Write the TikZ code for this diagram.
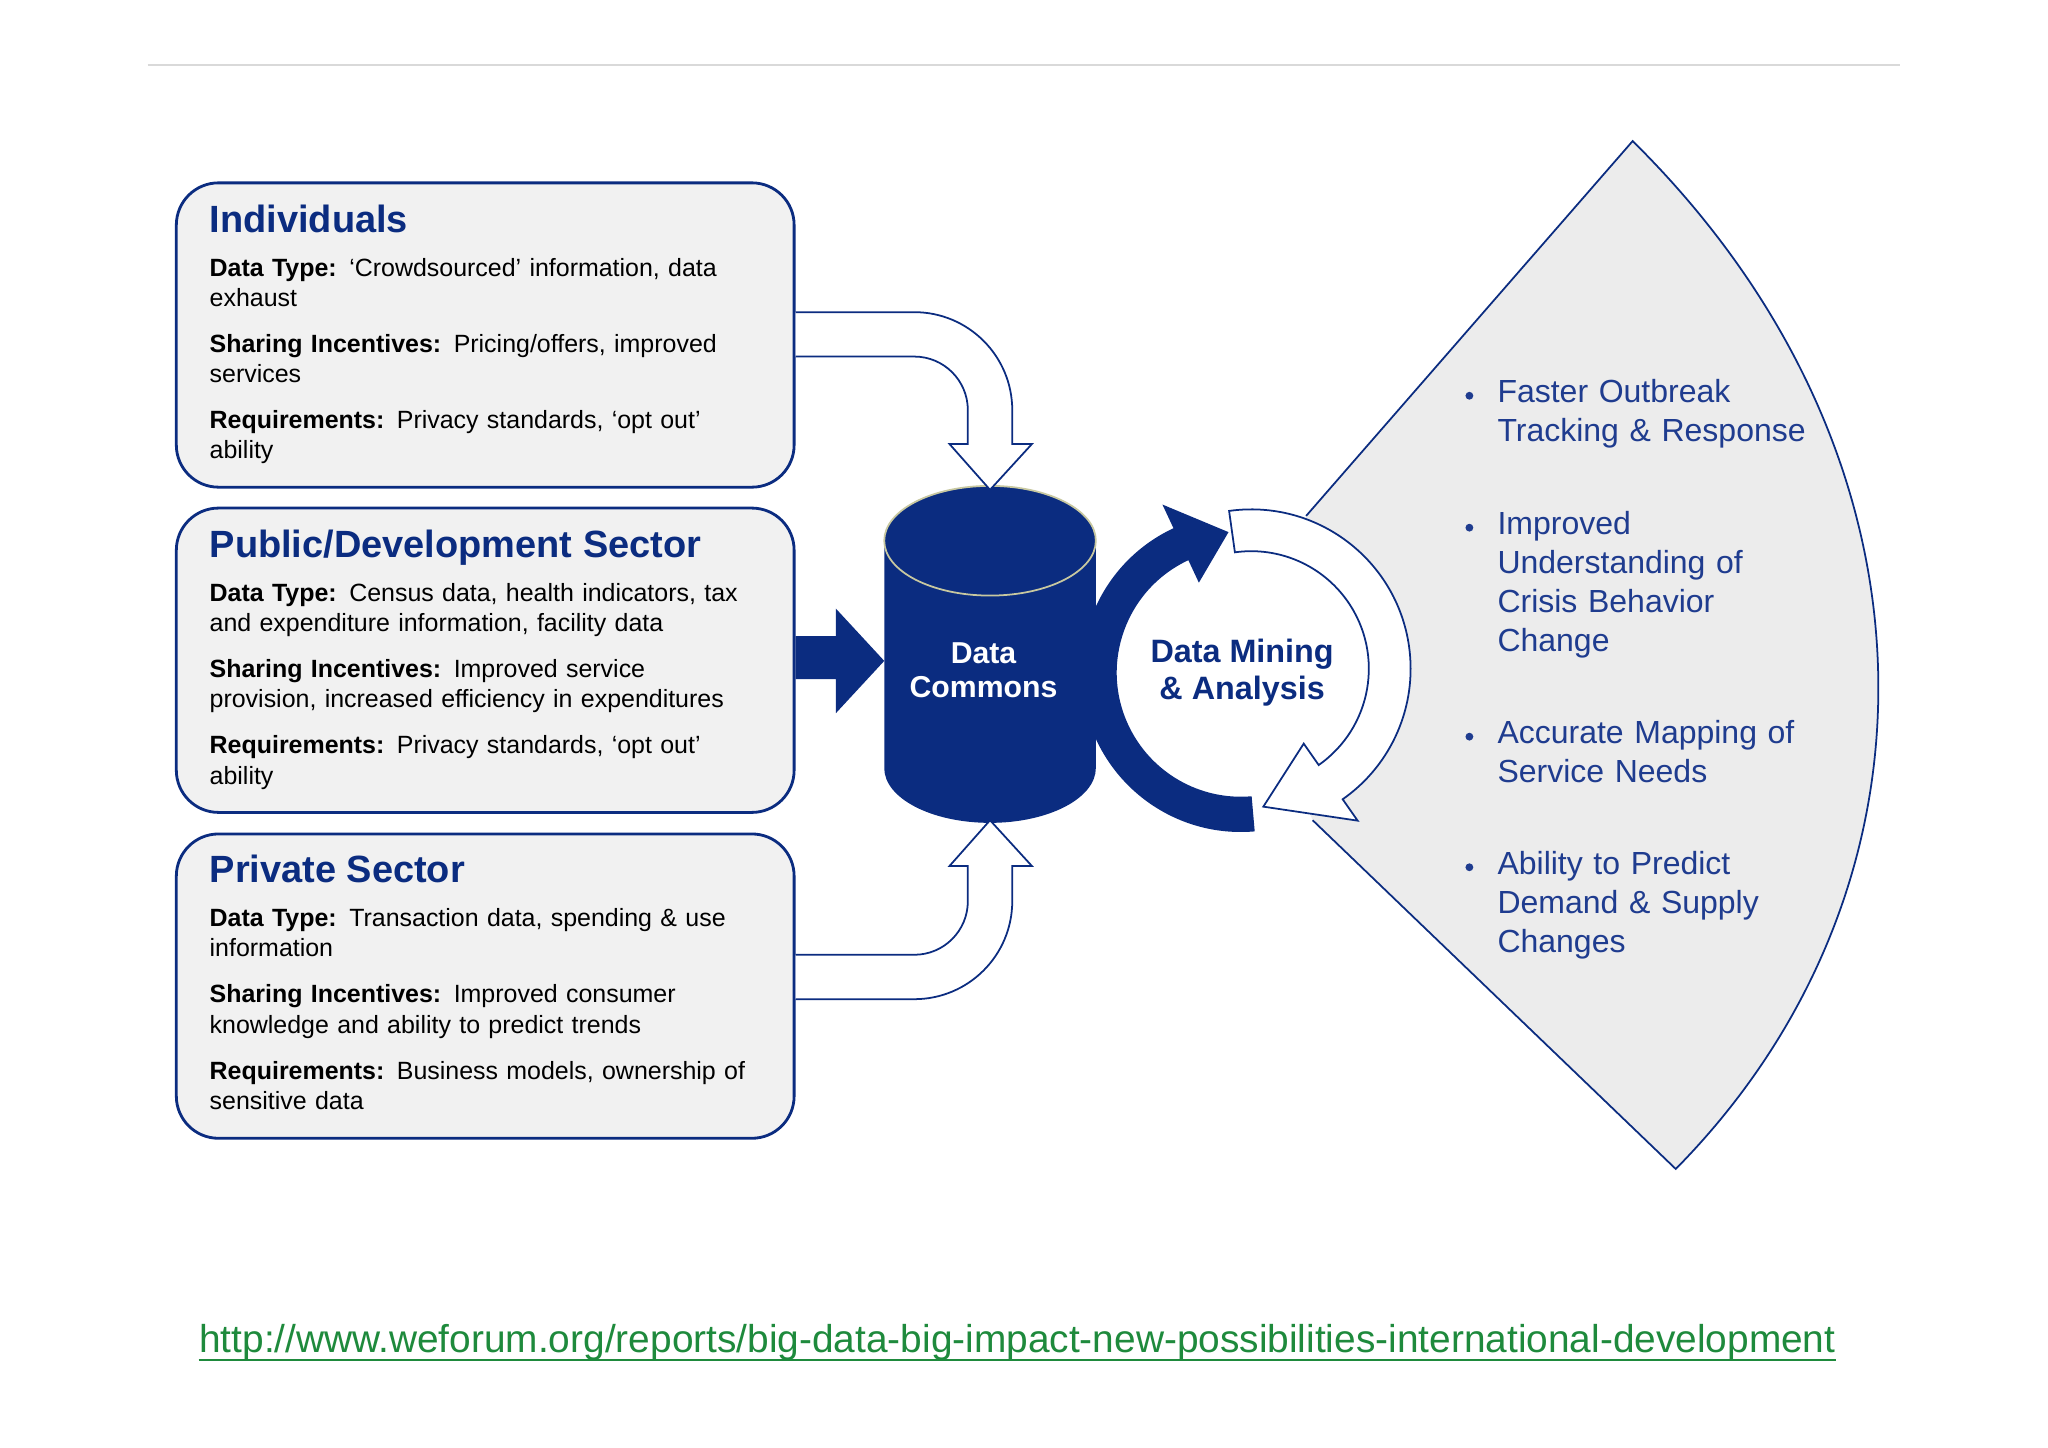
\documentclass[tikz,border=0pt]{standalone}
\usepackage{fontspec}
\setmainfont{Liberation Sans}
\usetikzlibrary{calc}
\definecolor{navy}{HTML}{0B2C80}
\definecolor{bluetxt}{HTML}{1F3C8F}
\definecolor{boxfill}{HTML}{F1F1F1}
\definecolor{fanfill}{HTML}{ECECEC}
\definecolor{urlgreen}{HTML}{1E8A3C}
\definecolor{rimc}{HTML}{C8C8A0}
\tikzset{
  srcbox/.style={draw=navy, line width=0.8pt, fill=boxfill, rounded corners=12pt, minimum width=473*0.3716pt, minimum height=233*0.3716pt, inner sep=0pt},
  ttl/.style={anchor=base west, font=\fontsize{10.8}{13}\selectfont\bfseries, text=navy, inner sep=0pt},
  body/.style={anchor=north west, text width=153pt, align=left, font=\fontsize{7.1}{8.6}\selectfont, inner sep=0pt},
  hollow/.style={draw=navy, line width=0.5pt, fill=white},
  bul/.style={anchor=north west, text width=105pt, align=left, font=\fontsize{9.1}{11.1}\selectfont, text=bluetxt, inner sep=0pt}
}
\hyphenpenalty=10000
\exhyphenpenalty=10000
\newcommand{\itm}[2]{\textbf{#1}\enspace #2\par\vspace{4.5pt}}
\begin{document}
\begin{tikzpicture}[x=0.3716pt, y=-0.3716pt]
\useasboundingbox[fill=white] (0,0) rectangle (1568,1108);
\draw[black!15, line width=0.6pt] (113,50) -- (1455,50);

% fan
\fill[fanfill] (958,512) -- (1000,395) -- (1250,108) .. controls (1495,350) and (1495,680) .. (1283,895) -- (1005,628) -- cycle;
\draw[navy, line width=0.5pt] (1000,395) -- (1250,108) .. controls (1495,350) and (1495,680) .. (1283,895) -- (1005,628);
\fill[white] (958,512) circle (100);

% source boxes
\node[srcbox] (ind) at (371.5,256.5) {};
\node[srcbox] (pub) at (371.5,505.5) {};
\node[srcbox] (prv) at (371.5,755) {};

\node[ttl] (t1) at (160,178) {Individuals};
\node[body] (b1) at (160,197) {\itm{Data Type:}{‘Crowdsourced’ information, data exhaust}\itm{Sharing Incentives:}{Pricing/offers, improved services}\itm{Requirements:}{Privacy standards, ‘opt out’ ability}};
\node[ttl] (t2) at (160,427) {Public/Development Sector};
\node[body] (b2) at (160,446) {\itm{Data Type:}{Census data, health indicators, tax and expenditure information, facility data}\itm{Sharing Incentives:}{Improved service provision, increased efficiency in expenditures}\itm{Requirements:}{Privacy standards, ‘opt out’ ability}};
\node[ttl] (t3) at (160,676) {Private Sector};
\node[body] (b3) at (160,695) {\itm{Data Type:}{Transaction data, spending \& use information}\itm{Sharing Incentives:}{Improved consumer knowledge and ability to predict trends}\itm{Requirements:}{Business models, ownership of sensitive data}};

% cylinder
\fill[navy] (677,414) -- (677,588) arc[start angle=180, end angle=360, x radius=81, y radius=-42] -- (839,414) arc[start angle=0, end angle=180, x radius=81, y radius=-42] -- cycle;
\draw[rimc, line width=0.5pt] (758,414) ellipse[x radius=81, y radius=42];
\node[font=\fontsize{8.6}{9.7}\selectfont\bfseries, text=white, align=center] (dc) at (753,513) {Data\\Commons};

% arrows from boxes
\draw[hollow] (ind.east |- 0,239) -- (700,239) arc[start angle=270, end angle=360, radius=75] -- (775,340) -- (790,340) -- (758,375) -- (727,340) -- (741,340) -- (741,314) arc[start angle=360, end angle=270, radius=41] -- (ind.east |- 0,273);
\draw[hollow] (prv.east |- 0,765) -- (700,765) arc[start angle=90, end angle=0, radius=75] -- (775,663) -- (790,663) -- (758,628) -- (727,663) -- (741,663) -- (741,690) arc[start angle=0, end angle=90, radius=41] -- (prv.east |- 0,731);
\fill[navy] (pub.east |- 0,487) -- (640,487) -- (640,466) -- (677,506) -- (640,546) -- (640,520) -- (pub.east |- 0,520) -- cycle;

% navy cycle arrow
\coordinate (c1) at (950,515);
\fill[navy] ($(c1)+(85:122)$) arc[start angle=85, end angle=245, radius=122] -- ($(c1)+(245:142)$) -- ($(c1)+(265:108)$) -- ($(c1)+(245:76)$) -- ($(c1)+(245:95)$) arc[start angle=245, end angle=85, radius=95] -- cycle;

% white cycle arrow
\coordinate (c2) at (958,512);
\draw[hollow] ($(c2)+(-98:122)$) arc[start angle=-98, end angle=55, radius=122] -- ($(c2)+(55:142)$) -- ($(c2)+(85:106)$) -- ($(c2)+(55:70)$) -- ($(c2)+(55:90)$) arc[start angle=55, end angle=-98, radius=90] -- cycle;
\node[font=\fontsize{9.2}{10.6}\selectfont\bfseries, text=navy, align=center] (dm) at (951,515) {Data Mining\\\& Analysis};

% bullets
\node[bul] (u1) at (1146,290) {Faster Outbreak\\Tracking \& Response};
\node[bul] (u2) at (1146,391) {Improved\\Understanding of\\Crisis Behavior\\Change};
\node[bul] (u3) at (1146,551) {Accurate Mapping of\\Service Needs};
\node[bul] (u4) at (1146,651) {Ability to Predict\\Demand \& Supply\\Changes};
\foreach \n in {u1,u2,u3,u4} \fill[bluetxt] ($(\n.north west)+(-21,13)$) circle (3);

% url
\node[font=\fontsize{11.05}{13}\selectfont, text=urlgreen, inner sep=0pt] (url) at (779,1028) {http://www.weforum.org/reports/big-data-big-impact-new-possibilities-international-development};
\draw[urlgreen, line width=0.6pt] ($(url.south west)+(0,-1)$) -- ($(url.south east)+(0,-1)$);
\end{tikzpicture}
\end{document}
